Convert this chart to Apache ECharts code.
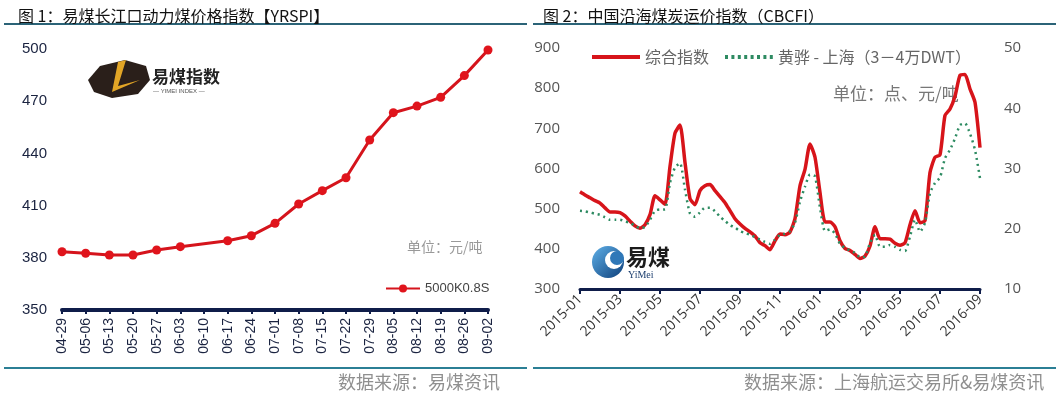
<!DOCTYPE html>
<html>
<head>
<meta charset="utf-8">
<script src="https://cdn.jsdelivr.net/npm/echarts@6/dist/echarts.min.js"></script>
<style>
  html, body { margin: 0; padding: 0; background: #fff; }
  #main { width: 1060px; height: 396px; }
</style>
</head>
<body>
<div id="main"></div>
<script>
// 图1 易煤长江口动力煤价格指数 (weekly)
var yrspiDates = ['04-29', '05-06', '05-13', '05-20', '05-27', '06-03', '06-10', '06-17', '06-24', '07-01',
                  '07-08', '07-15', '07-22', '07-29', '08-05', '08-12', '08-19', '08-26', '09-02'];
var yrspiValues = [383.5, 382.6, 381.6, 381.6, 384.5, 386.4, null, 389.8, 392.7, 399.8,
                   410.9, 418.6, 426, 447.7, 463.4, 467.2, 472.2, 484.7, 499.4];
var yrspiName = '5000K0.8S';

// 图2 中国沿海煤炭运价指数 (approx. quarter-month samples, 2015-01 .. 2016-09)
var cbcfiTickLabels = ['2015-01', '2015-03', '2015-05', '2015-07', '2015-09', '2015-11',
                       '2016-01', '2016-03', '2016-05', '2016-07', '2016-09'];
var cbcfiIndex = [542, 534, 527, 520, 514, 502, 492, 492, 490, 482, 469, 457, 451, 460, 485, 532,
                  522, 511, 605, 688, 708, 615, 525, 510, 545, 557, 560, 545, 530, 515, 495, 475,
                  462, 451, 442, 432, 415, 408, 398, 420, 437, 435, 442, 475, 557, 598, 661, 628,
                  540, 467, 467, 455, 420, 401, 396, 386, 376, 382, 407, 455, 425, 425, 424, 414,
                  409, 415, 460, 495, 465, 470, 590, 628, 634, 732, 748, 780, 832, 834, 798, 765, 652];
var hhShanghai = [23.0, 22.9, 22.7, 22.5, 22.3, 21.9, 21.5, 21.5, 21.5, 21.2, 21.0, 20.5, 20.1, 20.3, 21.5, 23.0,
                  23.2, 23.2, 27.6, 30.2, 30.9, 26.5, 22.5, 22.0, 22.7, 23.5, 23.5, 22.9, 22.0, 21.3, 20.6, 20.2,
                  19.6, 19.3, 19.0, 18.6, 18.2, 17.8, 17.5, 18.2, 19.0, 19.2, 19.6, 21.0, 24.5, 27.0, 29.0, 28.7,
                  23.5, 19.6, 19.9, 19.2, 17.5, 16.8, 16.4, 16.0, 15.3, 15.4, 17.6, 19.0, 17.0, 17.0, 17.3, 17.0,
                  16.5, 16.3, 18.7, 21.5, 19.5, 21.0, 25.9, 27.6, 28.5, 31.7, 33.1, 35.0, 37.2, 37.5, 35.8, 33.1, 28.4];
var cbcfiNames = ['综合指数', '黄骅 - 上海（3－4万DWT）'];

// category names: 4 samples per month
var cbcfiDates = [];
var days = ['01', '08', '16', '23'];
for (var i = 0; i < cbcfiIndex.length; i++) {
    var mi = Math.floor(i / 4);
    var y = 2015 + Math.floor(mi / 12);
    var m = (mi % 12) + 1;
    cbcfiDates.push(y + '-' + (m < 10 ? '0' + m : m) + '-' + days[i % 4]);
}

var navy = '#0f1d4a';
var cjk = '"Noto Sans CJK SC", sans-serif';
// legend icons: solid bar and row of dots
var solidIcon = 'path://M0,0h48v4h-48z';
var dotIcon = 'path://M0,0h3v4h-3zM6.4,0h3v4h-3zM12.8,0h3v4h-3zM19.2,0h3v4h-3zM25.6,0h3v4h-3zM32,0h3v4h-3zM38.4,0h3v4h-3zM44.8,0h3v4h-3z';

var chart = echarts.init(document.getElementById('main'));

var option = {
    backgroundColor: '#fff',
    animation: false,
    title: [{
        text: '图 1：易煤长江口动力煤价格指数【YRSPI】',
        left: 13, top: 3,
        textStyle: { fontFamily: cjk, fontSize: 16, fontWeight: 'normal', color: '#111' }
    }, {
        text: '图 2：中国沿海煤炭运价指数（CBCFI）',
        left: 538, top: 3,
        textStyle: { fontFamily: cjk, fontSize: 16, fontWeight: 'normal', color: '#111' }
    }],
    legend: [{
        data: [yrspiName],
        left: 380, top: 277,
        itemWidth: 34, itemHeight: 10,
        textStyle: { fontFamily: 'Liberation Sans, Arial', fontSize: 13, color: '#444' }
    }, {
        data: [{ name: cbcfiNames[0], icon: solidIcon }, { name: cbcfiNames[1], icon: dotIcon }],
        left: 587, top: 44,
        itemWidth: 48, itemHeight: 4, itemGap: 16,
        textStyle: { fontFamily: cjk, fontSize: 16, color: '#666' }
    }],
    grid: [
        { left: 62, top: 49, width: 426, height: 261 },
        { left: 580, top: 48, width: 400, height: 241 }
    ],
    xAxis: [{
        type: 'category', gridIndex: 0, data: yrspiDates, boundaryGap: false,
        axisLine: { lineStyle: { color: navy, width: 4 } },
        axisTick: { lineStyle: { color: navy, width: 2 }, length: 4 },
        axisLabel: { rotate: 90, interval: 0, margin: 8, color: '#1a2340',
                     fontFamily: 'Liberation Sans, Arial', fontSize: 14 }
    }, {
        type: 'category', gridIndex: 1, data: cbcfiDates, boundaryGap: false,
        axisLine: { lineStyle: { color: navy, width: 3 } },
        axisTick: { interval: 7, lineStyle: { color: navy, width: 2 }, length: 5 },
        axisLabel: {
            rotate: 45, interval: 7, margin: 8, color: '#333',
            fontFamily: 'Open Sans, sans-serif', fontSize: 14,
            formatter: function (v, idx) { return cbcfiTickLabels[idx / 8]; }
        }
    }],
    yAxis: [{
        type: 'value', gridIndex: 0, min: 350, max: 500, interval: 30,
        axisLine: { show: false }, axisTick: { show: false }, splitLine: { show: false },
        axisLabel: { margin: 15, color: '#1a2340', fontFamily: 'Liberation Sans, Arial', fontSize: 15 }
    }, {
        type: 'value', gridIndex: 1, min: 300, max: 900, interval: 100,
        axisLine: { show: false }, axisTick: { show: false }, splitLine: { show: false },
        axisLabel: { margin: 20, color: '#555', fontFamily: 'Open Sans, sans-serif', fontSize: 15 }
    }, {
        type: 'value', gridIndex: 1, position: 'right', min: 10, max: 50, interval: 10,
        axisLine: { show: false }, axisTick: { show: false }, splitLine: { show: false },
        axisLabel: { margin: 24, color: '#555', fontFamily: 'Open Sans, sans-serif', fontSize: 15 }
    }],
    series: [{
        name: yrspiName, type: 'line', xAxisIndex: 0, yAxisIndex: 0,
        data: yrspiValues, connectNulls: true,
        symbol: 'circle', symbolSize: 9,
        lineStyle: { color: '#d5141c', width: 3 },
        itemStyle: { color: '#e0141c' }
    }, {
        name: cbcfiNames[0], type: 'line', xAxisIndex: 1, yAxisIndex: 1,
        data: cbcfiIndex, symbol: 'none', smooth: 0.2,
        lineStyle: { color: '#d7141a', width: 3.5 },
        itemStyle: { color: '#d7141a' }, z: 3
    }, {
        name: cbcfiNames[1], type: 'line', xAxisIndex: 1, yAxisIndex: 2,
        data: hhShanghai, symbol: 'none', smooth: 0.2,
        lineStyle: { color: '#2e8b62', width: 2.5, type: [2, 4] },
        itemStyle: { color: '#2e8b62' }, z: 4
    }],
    graphic: [
        // rules under titles and above sources
        { type: 'line', shape: { x1: 4, y1: 24, x2: 527, y2: 24 }, style: { stroke: '#2b6377', lineWidth: 2 } },
        { type: 'line', shape: { x1: 533, y1: 24, x2: 1056, y2: 24 }, style: { stroke: '#2b6377', lineWidth: 2 } },
        { type: 'line', shape: { x1: 4, y1: 368, x2: 527, y2: 368 }, style: { stroke: '#2b7f95', lineWidth: 2 } },
        { type: 'line', shape: { x1: 533, y1: 368, x2: 1056, y2: 368 }, style: { stroke: '#2b7f95', lineWidth: 2 } },
        { type: 'text', left: 338, top: 373, style: { text: '数据来源：易煤资讯', fill: '#8f8f8f', font: '18px ' + cjk } },
        { type: 'text', left: 744, top: 373, style: { text: '数据来源：上海航运交易所&易煤资讯', fill: '#8f8f8f', font: '18px ' + cjk } },
        // unit notes
        { type: 'text', left: 407, top: 240, style: { text: '单位：元/吨', fill: '#999', font: '14px ' + cjk } },
        { type: 'text', left: 833, top: 85, style: { text: '单位：点、元/吨', fill: '#777', font: '17px ' + cjk } },
        // left logo (易煤指数)
        { type: 'polygon', shape: { points: [[88, 80], [100, 66], [125, 60], [146, 66], [150, 80], [138, 94], [112, 98], [94, 92]] },
          style: { fill: '#2a1f1a' } },
        { type: 'polygon', shape: { points: [[118, 62], [126, 60], [118, 86], [140, 80], [112, 92]] },
          style: { fill: '#e2a526' } },
        { type: 'text', left: 152, top: 68, style: { text: '易煤指数', fill: '#222', font: 'bold 17px ' + cjk } },
        { type: 'text', left: 153, top: 88, style: { text: '— YIMEI INDEX —', fill: '#555', font: '6px sans-serif' } },
        // right logo (易煤 YiMei)
        { type: 'circle', shape: { cx: 608, cy: 262, r: 16 },
          style: { fill: new echarts.graphic.LinearGradient(0, 0, 1, 1, [
              { offset: 0, color: '#5fb0e8' }, { offset: 1, color: '#0d3f7a' }]) } },
        { type: 'circle', shape: { cx: 614, cy: 260, r: 9 }, style: { fill: '#fff' } },
        { type: 'circle', shape: { cx: 617, cy: 258, r: 7 }, style: { fill: '#2f78b8' } },
        { type: 'text', left: 626, top: 246, style: { text: '易煤', fill: '#1b1b1b', font: 'bold 22px ' + cjk } },
        { type: 'text', left: 628, top: 270, style: { text: 'YiMei', fill: '#1d3f6e', font: '10px serif' } }
    ]
};

chart.setOption(option);
</script>
</body>
</html>
